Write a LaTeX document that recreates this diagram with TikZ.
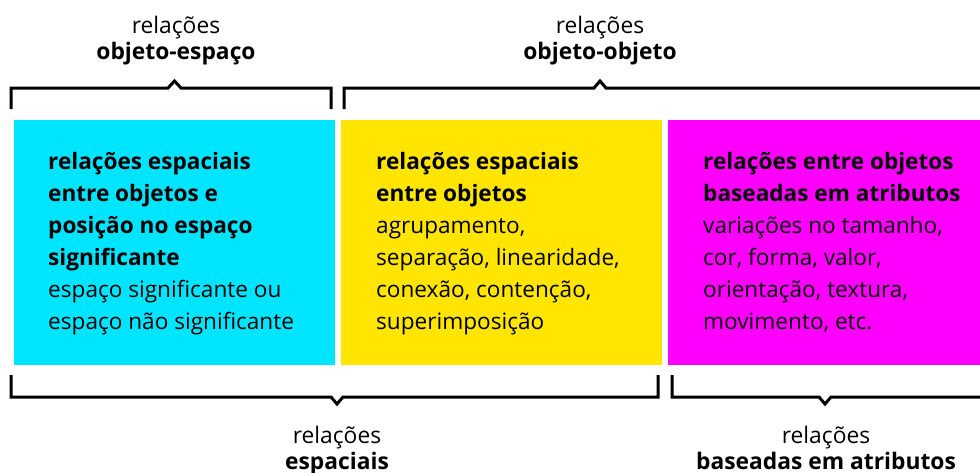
\documentclass[tikz,border=0pt]{standalone}
\usepackage{fontspec}
\setmainfont{Open Sans}
\usetikzlibrary{positioning}

\definecolor{cyanbox}{HTML}{00E5FF}
\definecolor{yellowbox}{HTML}{FFE500}
\definecolor{magentabox}{HTML}{FF00FF}

\tikzset{
    box/.style={rectangle, inner sep=0pt, anchor=north west, minimum height=245pt},
    boxtext/.style={anchor=base west, align=left, inner sep=0pt, font=\fontsize{22.6}{32}\selectfont},
    bracket/.style={line width=3pt, line join=miter},
    caption/.style={anchor=base, align=center, inner sep=0pt, font=\fontsize{22.8}{26}\selectfont}
}

\begin{document}
\begin{tikzpicture}[x=1pt,y=-1pt]
    \useasboundingbox (0,0) rectangle (980,472);

    % the three boxes
    \node[box, fill=cyanbox, minimum width=321pt] (espaco) at (14,120) {};
    \node[box, fill=yellowbox, minimum width=321pt] (objetos) at (341,120) {};
    \node[box, fill=magentabox, minimum width=312pt] (atributos) at (668,120) {};

    % texts, placed by their last line
    \node[boxtext] (espacotxt) at ([xshift=34pt, yshift=-209pt]espaco.north west)
        {\textbf{relações espaciais}\\\textbf{entre objetos e}\\\textbf{posição no espaço}\\\textbf{significante}\\espaço significante ou\\espaço não significante};
    \node[boxtext] (objetostxt) at ([xshift=35pt, yshift=-209pt]objetos.north west)
        {\textbf{relações espaciais}\\\textbf{entre objetos}\\agrupamento,\\separação, linearidade,\\conexão, contenção,\\superimposição};
    \node[boxtext] (atributostxt) at ([xshift=35pt, yshift=-209pt]atributos.north west)
        {\textbf{relações entre objetos}\\\textbf{baseadas em atributos}\\variações no tamanho,\\cor, forma, valor,\\orientação, textura,\\movimento, etc.};

    % brackets above
    \draw[bracket] (11,109) -- (11,88) -- (168,88) -- (174.5,81) -- (181,88) -- (331,88) -- (331,109);
    \draw[bracket] (344,109) -- (344,88) -- (594,88) -- (600,81) -- (606,88) -- (980,88);

    % brackets below
    \draw[bracket] (11,375) -- (11,397) -- (331,397) -- (337,404) -- (343,397) -- (658,397) -- (658,375);
    \draw[bracket] (672,375) -- (672,397) -- (819,397) -- (825,404) -- (831,397) -- (980,397);

    % captions
    \node[caption] (objespaco) at (176,59) {relações\\\textbf{objeto-espaço}};
    \node[caption] (objobjeto) at (600,59) {relações\\\textbf{objeto-objeto}};
    \node[caption] (espaciais) at (337,469) {relações\\\textbf{espaciais}};
    \node[caption] (baseadas) at (826,469) {relações\\\textbf{baseadas em atributos}};
\end{tikzpicture}
\end{document}
